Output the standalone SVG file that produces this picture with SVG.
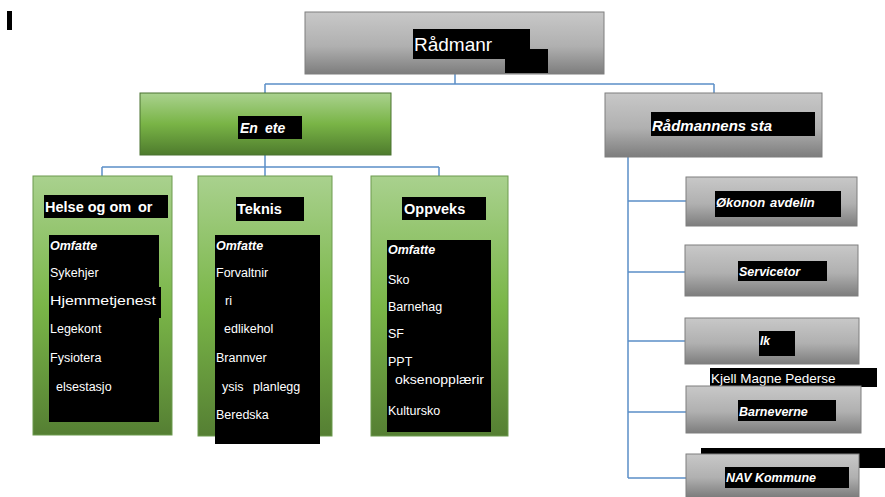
<svg xmlns="http://www.w3.org/2000/svg" width="885" height="497" viewBox="0 0 885 497">
<defs>
<linearGradient id="gray" x1="0" y1="0" x2="0" y2="1">
<stop offset="0" stop-color="#c8c8c8"/><stop offset="0.55" stop-color="#b0b0b0"/><stop offset="1" stop-color="#7d7d7d"/>
</linearGradient>
<linearGradient id="green" x1="0" y1="0" x2="0" y2="1">
<stop offset="0" stop-color="#aad28f"/><stop offset="0.5" stop-color="#79b446"/><stop offset="1" stop-color="#4e7b2d"/>
</linearGradient>
<linearGradient id="green2" x1="0" y1="0" x2="0" y2="1">
<stop offset="0" stop-color="#a9d18e"/><stop offset="0.5" stop-color="#7ab648"/><stop offset="1" stop-color="#557f33"/>
</linearGradient>
</defs>
<style>
.g{fill:url(#gray);stroke:#7f7f7f;stroke-width:1}
.gr{fill:url(#green);stroke:#4a7330;stroke-width:1}
.gc{fill:url(#green2);stroke:#6d9a4f;stroke-width:1}
.k{fill:#000}
.c{fill:none;stroke:#5b8fc8;stroke-width:1.5}
text{font-family:"Liberation Sans",Arial,sans-serif;fill:#fff}
.bi{font-weight:bold;font-style:italic}
.b{font-weight:bold}
.t{font-size:12.5px}
</style>
<rect class="k" x="7" y="11" width="5" height="19"/>
<g id="connectors">
<path class="c" d="M455 74V84M265 84H714M265 84V93M714 84V93"/>
<path class="c" d="M265 155V167M102 167H439M102 167V176M265 167V176M439 167V176"/>
<path class="c" d="M628 157V478M628 201H686M628 272H685M628 341H685M628 412H686M628 478H686"/>
</g>
<g id="radmann">
<rect class="g" x="305" y="12" width="299" height="62"/>
<rect class="k" x="413" y="29" width="117" height="30"/>
<rect class="k" x="505" y="49" width="43" height="24"/>
<text x="414" y="51" font-size="19">Rådmanr</text>
</g>
<g id="enheter">
<rect class="gr" x="140" y="93" width="251" height="62"/>
<rect class="k" x="238" y="116" width="64" height="23"/>
<text class="bi" x="240" y="133" font-size="14">En</text>
<text class="bi" x="265" y="133" font-size="14">ete</text>
</g>
<g id="stab">
<rect class="g" x="605" y="93" width="217" height="64"/>
<rect class="k" x="651" y="112" width="164" height="24"/>
<text class="bi" x="652" y="131" font-size="15">Rådmannens sta</text>
</g>
<g id="helse">
<rect class="gc" x="33" y="176" width="139" height="259"/>
<rect class="k" x="44" y="195" width="124" height="23"/>
<text class="b" x="45" y="212" font-size="14.5">Helse og om</text>
<text class="b" x="138" y="212" font-size="14.5">or</text>
<rect class="k" x="49" y="235" width="110" height="187"/>
<rect class="k" x="155" y="287" width="6" height="31"/>
<text class="bi t" x="50" y="250">Omfatte</text>
<text class="t" x="50" y="277">Sykehjer</text>
<text class="t" x="50" y="305" textLength="106" lengthAdjust="spacingAndGlyphs">Hjemmetjenest</text>
<text class="t" x="50" y="333">Legekont</text>
<text class="t" x="50" y="362">Fysiotera</text>
<text class="t" x="56" y="391">elsestasjo</text>
</g>
<g id="teknisk">
<rect class="gc" x="198" y="176" width="134" height="260"/>
<rect class="k" x="236" y="197" width="68" height="24"/>
<text class="b" x="237" y="214" font-size="14.5">Teknis</text>
<rect class="k" x="215" y="235" width="105" height="209"/>
<text class="bi t" x="216" y="250">Omfatte</text>
<text class="t" x="216" y="277">Forvaltnir</text>
<text class="t" x="225" y="305">ri</text>
<text class="t" x="224" y="333">edlikehol</text>
<text class="t" x="216" y="362">Brannver</text>
<text class="t" x="222" y="391">ysis</text>
<text class="t" x="253" y="391">planlegg</text>
<text class="t" x="216" y="419">Beredska</text>
</g>
<g id="oppvekst">
<rect class="gc" x="371" y="176" width="137" height="260"/>
<rect class="k" x="402" y="197" width="84" height="23"/>
<text class="b" x="404" y="214" font-size="14.5">Oppveks</text>
<rect class="k" x="387" y="240" width="104" height="192"/>
<text class="bi t" x="388" y="254">Omfatte</text>
<text class="t" x="388" y="284">Sko</text>
<text class="t" x="388" y="311">Barnehag</text>
<text class="t" x="388" y="338">SF</text>
<text class="t" x="388" y="366">PPT</text>
<text class="t" x="395" y="384" textLength="89" lengthAdjust="spacingAndGlyphs">oksenopplærir</text>
<text class="t" x="388" y="415">Kultursko</text>
</g>
<g id="okonomi">
<rect class="g" x="686" y="177" width="171" height="49"/>
<rect class="k" x="715" y="191" width="126" height="26"/>
<text class="bi" x="716" y="207" font-size="13">Økonon</text>
<text class="bi" x="770" y="207" font-size="13">avdelin</text>
</g>
<g id="servicetorg">
<rect class="g" x="685" y="245" width="173" height="51"/>
<rect class="k" x="738" y="261" width="89" height="20"/>
<text class="bi" x="739" y="276" font-size="12.5">Servicetor</text>
</g>
<g id="ik">
<rect class="g" x="685" y="318" width="174" height="46"/>
<rect class="k" x="759" y="331" width="36" height="25"/>
<text class="bi" x="760" y="345" font-size="12">Ik</text>
</g>
<g id="kjell">
<rect class="k" x="710" y="368" width="167" height="19"/>
<text x="711" y="383" font-size="13.5">Kjell Magne Pederse</text>
</g>
<g id="barnevern">
<rect class="g" x="686" y="386" width="175" height="47"/>
<rect class="k" x="738" y="400" width="98" height="21"/>
<text class="bi" x="739" y="416" font-size="12.5">Barneverne</text>
</g>
<g id="navnavn">
<rect class="k" x="701" y="448" width="184" height="20"/>
</g>
<g id="nav">
<rect class="g" x="686" y="454" width="173" height="43"/>
<rect class="k" x="725" y="467" width="124" height="21"/>
<text class="bi" x="726" y="482" font-size="12.5">NAV Kommune</text>
</g>
</svg>
